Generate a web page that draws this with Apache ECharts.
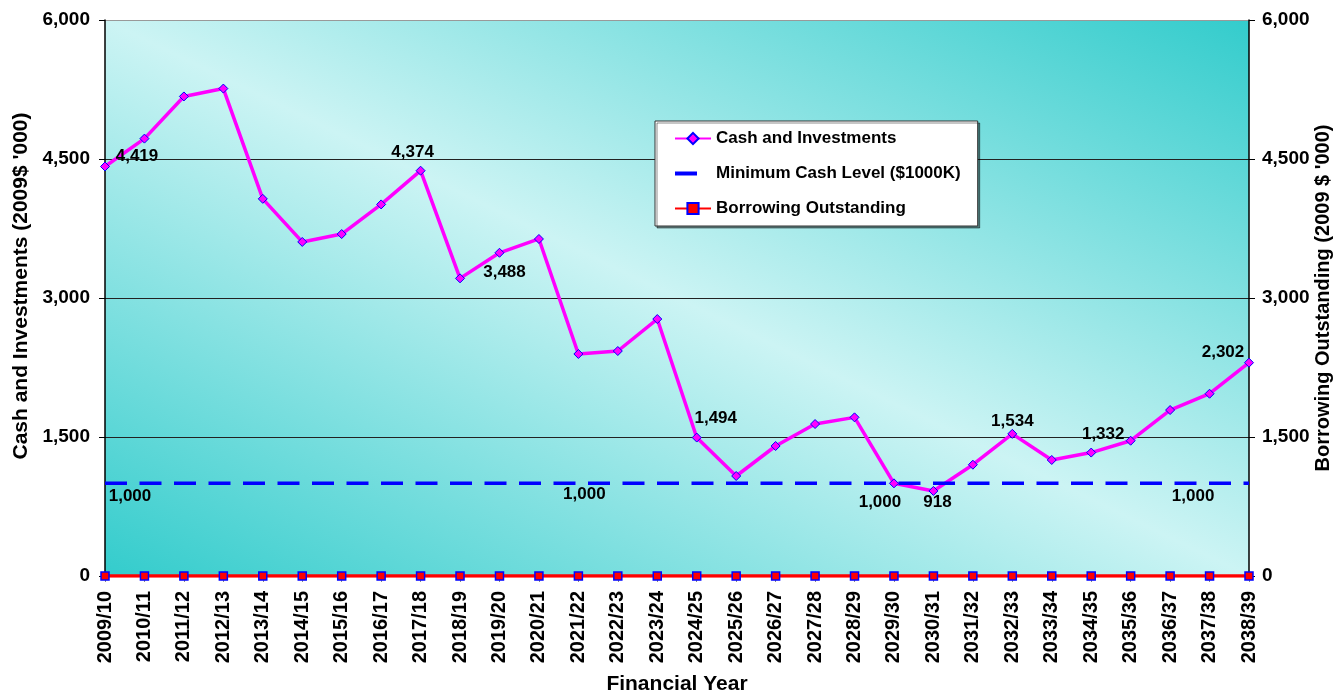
<!DOCTYPE html>
<html>
<head>
<meta charset="utf-8">
<title>Cash and Investments</title>
<script src="https://cdn.jsdelivr.net/npm/echarts@6/dist/echarts.min.js"></script>
<style>
  html, body { margin: 0; padding: 0; background: #fff; }
  #chart { width: 1337px; height: 693px; }
</style>
</head>
<body>
<div id="chart"></div>
<script>
// Financial years on the category axis
const years = [
  '2009/10', '2010/11', '2011/12', '2012/13', '2013/14', '2014/15', '2015/16', '2016/17',
  '2017/18', '2018/19', '2019/20', '2020/21', '2021/22', '2022/23', '2023/24', '2024/25',
  '2025/26', '2026/27', '2027/28', '2028/29', '2029/30', '2030/31', '2031/32', '2032/33',
  '2033/34', '2034/35', '2035/36', '2036/37', '2037/38', '2038/39'
];

// Cash and investments, 2009$ '000
const cashInvestments = [
  4419, 4720, 5175, 5260, 4070, 3605, 3690, 4010, 4374, 3212,
  3488, 3637, 2396, 2428, 2773, 1494, 1079, 1403, 1640, 1712,
  1000, 918, 1201, 1534, 1252, 1332, 1460, 1791, 1967, 2302
];

// Minimum cash level ($1000K)
const minimumCash = [
  1000, 1000, 1000, 1000, 1000, 1000, 1000, 1000, 1000, 1000,
  1000, 1000, 1000, 1000, 1000, 1000, 1000, 1000, 1000, 1000,
  1000, 1000, 1000, 1000, 1000, 1000, 1000, 1000, 1000, 1000
];

// Borrowing outstanding, 2009 $ '000
const borrowing = [
  0, 0, 0, 0, 0, 0, 0, 0, 0, 0,
  0, 0, 0, 0, 0, 0, 0, 0, 0, 0,
  0, 0, 0, 0, 0, 0, 0, 0, 0, 0
];

// Value axis ticks
const valueTicks = [0, 1500, 3000, 4500, 6000];

// Where the value labels sit relative to their point (pixels)
const cashLabelOffsets = {
  0: [32, -10], 8: [-8, -18], 10: [5, 20], 15: [19, -19], 20: [-14, 19],
  21: [4, 11], 23: [0, -13], 25: [12, -18], 29: [-26, -10]
};
const minLabelOffsets = { 0: [25, 13], 12: [6, 11], 27: [23, 13] };

const fmt = v => Number(v).toLocaleString('en-US');
const FONT = 'Liberation Sans, Arial, sans-serif';

function labelled(values, offsets) {
  return values.map((v, i) => offsets[i]
    ? { value: v, label: { show: true, offset: offsets[i] } }
    : v);
}

const valueLabelStyle = {
  show: false, position: 'inside', align: 'center', verticalAlign: 'middle',
  fontFamily: FONT, fontSize: 17, fontWeight: 'bold', color: '#000',
  formatter: p => fmt(p.value)
};

const chart = echarts.init(document.getElementById('chart'));

const valueAxisBase = {
  type: 'value',
  min: valueTicks[0],
  max: valueTicks[valueTicks.length - 1],
  interval: valueTicks[1] - valueTicks[0],
  nameLocation: 'middle',
  nameRotate: 90,
  nameMoveOverlap: false,
  axisLine: { show: true, lineStyle: { color: '#000', width: 1.5 } },
  axisTick: { show: true, length: 6, lineStyle: { color: '#000' } }
};

const tickLabel = { fontFamily: FONT, fontSize: 19, fontWeight: 'bold', color: '#000', formatter: fmt };

chart.setOption({
  animation: false,
  textStyle: { fontFamily: FONT },
  grid: {
    left: 105, right: 88, top: 20, bottom: 117,
    containLabel: false,
    outerBoundsMode: 'none',
    show: true, borderWidth: 0,
    backgroundColor: new echarts.graphic.LinearGradient(0.309, 1.309, 0.691, -0.309, [
      { offset: 0, color: '#33CCCC' },
      { offset: 0.5, color: '#CCF4F4' },
      { offset: 1, color: '#33CCCC' }
    ])
  },
  legend: {
    orient: 'vertical',
    left: 655, top: 121,
    padding: [9, 17, 9, 18],
    itemWidth: 36, itemHeight: 14, itemGap: 18,
    backgroundColor: '#fff',
    borderColor: '#333', borderWidth: 1,
    shadowColor: 'rgba(0,0,0,0.45)', shadowOffsetX: 2, shadowOffsetY: 2, shadowBlur: 0,
    textStyle: { fontFamily: FONT, fontSize: 17, fontWeight: 'bold', color: '#000' },
    data: [
      'Cash and Investments',
      { name: 'Minimum Cash Level ($1000K)', lineStyle: { type: [22, 30], width: 4 } },
      'Borrowing Outstanding'
    ]
  },
  xAxis: {
    type: 'category',
    data: years,
    boundaryGap: false,
    name: 'Financial Year',
    nameLocation: 'middle',
    nameGap: 98,
    nameMoveOverlap: false,
    nameTextStyle: { fontFamily: FONT, fontSize: 21, fontWeight: 'bold', color: '#000' },
    axisLine: { show: true, lineStyle: { color: '#000' } },
    axisTick: { show: true, interval: 0, length: 6, lineStyle: { color: '#888' } },
    axisLabel: {
      rotate: 90, interval: 0, margin: 15,
      fontFamily: FONT, fontSize: 20, fontWeight: 'bold', color: '#000'
    },
    splitLine: { show: false }
  },
  yAxis: [
    Object.assign({}, valueAxisBase, {
      position: 'left',
      name: "Cash and Investments (2009$ '000)",
      nameGap: 73,
      nameTextStyle: {
        fontFamily: FONT, fontSize: 21, fontWeight: 'bold', color: '#000',
        padding: [0, 0, 0, 24]
      },
      axisLabel: Object.assign({ margin: 15 }, tickLabel),
      splitLine: { show: true, lineStyle: { color: ['#222', '#222', '#222', '#222', '#999'], width: 1 } }
    }),
    Object.assign({}, valueAxisBase, {
      position: 'right',
      name: "Borrowing Outstanding (2009 $ '000)",
      nameGap: 64,
      nameTextStyle: { fontFamily: FONT, fontSize: 20, fontWeight: 'bold', color: '#000' },
      axisLabel: Object.assign({ margin: 13 }, tickLabel),
      splitLine: { show: false }
    })
  ],
  series: [
    {
      name: 'Cash and Investments',
      type: 'line',
      yAxisIndex: 0,
      data: labelled(cashInvestments, cashLabelOffsets),
      symbol: 'diamond', symbolSize: 9, showAllSymbol: true,
      lineStyle: { color: '#FF00FF', width: 3.5 },
      itemStyle: { color: '#FF00FF', borderColor: '#0000FF', borderWidth: 1 },
      label: valueLabelStyle,
      z: 3
    },
    {
      name: 'Minimum Cash Level ($1000K)',
      type: 'line',
      yAxisIndex: 0,
      data: labelled(minimumCash, minLabelOffsets),
      symbol: 'circle', symbolSize: 1, showAllSymbol: true,
      lineStyle: { color: '#0000FF', width: 3.5, type: [22, 12.5] },
      itemStyle: { color: 'transparent', borderWidth: 0 },
      label: valueLabelStyle,
      z: 4
    },
    {
      name: 'Borrowing Outstanding',
      type: 'line',
      yAxisIndex: 1,
      data: borrowing,
      symbol: 'rect', symbolSize: 8, showAllSymbol: true,
      lineStyle: { color: '#FF0000', width: 3.5 },
      itemStyle: { color: '#FF0000', borderColor: '#0000FF', borderWidth: 1.5 },
      z: 5
    }
  ]
});
</script>
</body>
</html>
